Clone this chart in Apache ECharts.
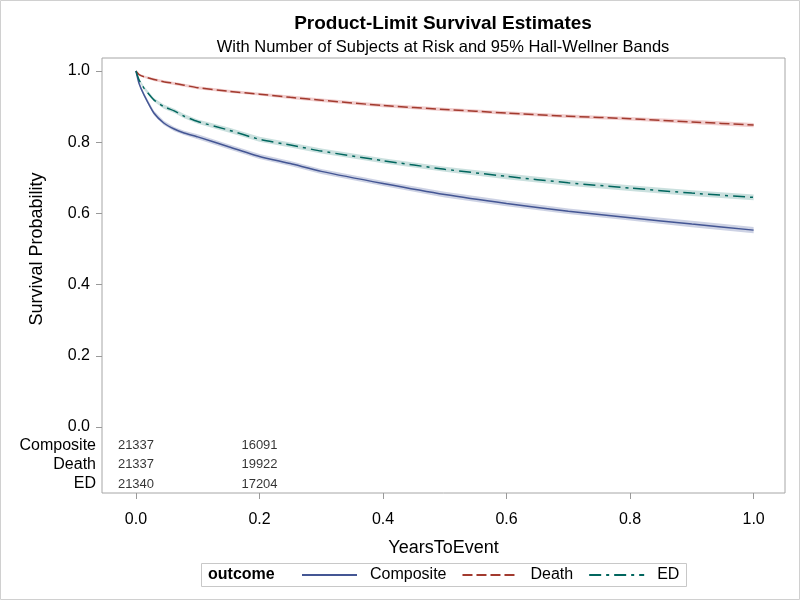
<!DOCTYPE html>
<html>
<head>
<meta charset="utf-8">
<script src="https://cdn.jsdelivr.net/npm/echarts@6/dist/echarts.min.js"></script>
<style>html,body{margin:0;padding:0;background:#fff}#c{width:800px;height:600px}</style>
</head>
<body>
<div id="c"></div>
<script>
// ---- data ----
const years = [0, 0.005, 0.013, 0.029, 0.045, 0.062, 0.078, 0.1, 0.15, 0.2, 0.25, 0.3, 0.4, 0.5, 0.6, 0.7, 0.8, 0.9, 1.0];
const compositeSurv = [1.0, 0.965, 0.933, 0.882, 0.854, 0.837, 0.826, 0.815, 0.787, 0.760, 0.740, 0.718, 0.684, 0.653, 0.628, 0.606, 0.588, 0.570, 0.553];
const deathSurv = [1.0, 0.990, 0.984, 0.976, 0.970, 0.965, 0.960, 0.953, 0.943, 0.935, 0.926, 0.918, 0.903, 0.892, 0.882, 0.873, 0.866, 0.857, 0.848];
const edSurv = [1.0, 0.975, 0.952, 0.919, 0.900, 0.888, 0.873, 0.858, 0.834, 0.808, 0.792, 0.775, 0.748, 0.724, 0.704, 0.686, 0.671, 0.657, 0.645];
// Hall-Wellner band half-widths
const compositeBand = [0, 0.004, 0.005, 0.006, 0.006, 0.006, 0.006, 0.007, 0.007, 0.007, 0.007, 0.007, 0.007, 0.008, 0.008, 0.008, 0.008, 0.009, 0.009];
const deathBand = [0, 0.003, 0.003, 0.004, 0.004, 0.004, 0.004, 0.004, 0.004, 0.004, 0.005, 0.005, 0.005, 0.005, 0.005, 0.005, 0.005, 0.006, 0.006];
const edBand = [0, 0.004, 0.005, 0.005, 0.006, 0.006, 0.006, 0.006, 0.007, 0.007, 0.007, 0.007, 0.007, 0.007, 0.008, 0.008, 0.008, 0.008, 0.008];
// at-risk table
const outcomes = ['Composite', 'Death', 'ED'];
const atRiskYears = [0, 0.2];
const compositeAtRisk = [21337, 16091];
const deathAtRisk = [21337, 19922];
const edAtRisk = [21340, 17204];
const yTicks = [0, 0.2, 0.4, 0.6, 0.8, 1.0];
const xTicks = [0, 0.2, 0.4, 0.6, 0.8, 1.0];

// ---- layout ----
const rowPos = [-0.0525, -0.1048, -0.160];
const FONT = 'Liberation Sans, Arial, sans-serif';
const SMOOTH = 0.2;
const colors = {
  Composite: {line: '#445694', fill: 'rgba(111,126,179,0.35)', dash: 'solid'},
  Death: {line: '#A23A2E', fill: 'rgba(208,91,91,0.30)', dash: [10, 4]},
  ED: {line: '#01665E', fill: 'rgba(102,165,160,0.35)', dash: [12, 5, 3, 5]}
};
const survMap = {Composite: compositeSurv, Death: deathSurv, ED: edSurv};
const bandMap = {Composite: compositeBand, Death: deathBand, ED: edBand};
const riskMap = {Composite: compositeAtRisk, Death: deathAtRisk, ED: edAtRisk};

const series = [];
outcomes.forEach(function (name) {
  const s = survMap[name], b = bandMap[name];
  series.push({
    type: 'custom', name: name + '_band', silent: true, z: 1,
    data: [[0, 1]],
    renderItem: function (params, api) {
      const up = [], lo = [];
      for (let i = 0; i < years.length; i++) {
        up.push(api.coord([years[i], s[i] + b[i]]));
        lo.push(api.coord([years[i], s[i] - b[i]]));
      }
      return {type: 'group', children: [
        {type: 'polygon', shape: {points: up.concat(lo.reverse())}, style: {fill: colors[name].fill, stroke: 'none'}}
      ]};
    }
  });
});
outcomes.forEach(function (name) {
  const s = survMap[name];
  series.push({
    type: 'line', name: name,
    data: years.map((x, i) => [x, s[i]]),
    symbol: 'none', smooth: SMOOTH,
    color: colors[name].line,
    lineStyle: {color: colors[name].line, width: 1.5, type: colors[name].dash}, z: 3
  });
});
outcomes.forEach(function (name, r) {
  series.push({
    type: 'scatter', name: name + '_risk', silent: true,
    symbolSize: 0,
    data: atRiskYears.map((x, i) => [x, rowPos[r], riskMap[name][i]]),
    label: {show: true, position: 'inside', formatter: p => String(p.value[2]),
      color: '#000', fontSize: 13, fontFamily: FONT},
    z: 4
  });
});

const chart = echarts.init(document.getElementById('c'));
chart.setOption({
  backgroundColor: '#fff',
  animation: false,
  textStyle: {fontFamily: FONT},
  title: [{
    text: 'Product-Limit Survival Estimates',
    subtext: 'With Number of Subjects at Risk and 95% Hall-Wellner Bands',
    left: 438, textAlign: 'center', top: 9, itemGap: 6,
    textStyle: {fontSize: 19, fontWeight: 'bold', color: '#000', fontFamily: FONT},
    subtextStyle: {fontSize: 16.5, color: '#000', fontFamily: FONT}
  }],
  grid: {left: 102, right: 15, top: 58, bottom: 107, show: true, borderColor: '#a6a6a6', borderWidth: 1, containLabel: false},
  xAxis: {
    type: 'value', min: -0.055, max: 1.0508,
    name: 'YearsToEvent', nameLocation: 'middle', nameGap: 46,
    nameTextStyle: {fontSize: 18, color: '#000', fontFamily: FONT},
    axisLine: {show: false, onZero: false},
    splitLine: {show: false},
    axisTick: {show: true, customValues: xTicks, length: 6, lineStyle: {color: '#999'}},
    axisLabel: {customValues: xTicks, margin: 19, fontSize: 16, color: '#000', fontFamily: FONT,
      formatter: v => v.toFixed(1)}
  },
  yAxis: {
    type: 'value', min: -0.1854, max: 1.0365,
    axisLine: {show: false, onZero: false},
    splitLine: {show: false},
    axisTick: {show: true, customValues: yTicks, length: 6, lineStyle: {color: '#999'}},
    axisLabel: {
      customValues: rowPos.concat(yTicks), margin: 6, fontSize: 16, color: '#000', fontFamily: FONT,
      formatter: function (v) {
        const r = rowPos.indexOf(v);
        if (r >= 0) return outcomes[r];
        return '{n|' + v.toFixed(1) + '}';
      },
      rich: {n: {fontSize: 16, color: '#000', fontFamily: FONT, padding: [0, 6, 0, 0]}}
    }
  },
  legend: {
    data: outcomes, left: 301, top: 567, itemWidth: 55, itemHeight: 14, itemGap: 15, padding: 0,
    itemStyle: {opacity: 0},
    textStyle: {fontSize: 16, color: '#000', fontFamily: FONT, padding: [0, 0, 0, 8]}, selectedMode: false
  },
  graphic: [
    {type: 'rect', shape: {x: 0.5, y: 0.5, width: 799, height: 599}, style: {fill: 'none', stroke: '#d0d0d0', lineWidth: 1}, silent: true},
    {type: 'rect', shape: {x: 201.5, y: 563.5, width: 485, height: 23}, style: {fill: 'none', stroke: '#c8c8c8', lineWidth: 1}, silent: true},
    {type: 'text', left: 208, top: 567, style: {text: 'outcome', font: 'bold 16px ' + FONT, fill: '#000'}, silent: true},
    {type: 'text', x: 37, y: 249, rotation: Math.PI / 2, style: {text: 'Survival Probability', font: '18px ' + FONT, fill: '#000', align: 'center', verticalAlign: 'middle'}, silent: true}
  ],
  series: series
});
</script>
</body>
</html>
